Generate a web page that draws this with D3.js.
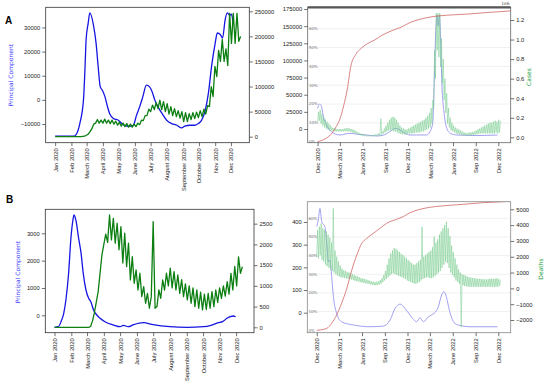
<!DOCTYPE html>
<html>
<head>
<meta charset="utf-8">
<title>Principal component vs cases / deaths</title>
<script src="https://d3js.org/d3.v7.min.js"></script>
<style>
  body { margin: 0; background: #fff; }
  svg { display: block; font-family: "DejaVu Sans", sans-serif; }
  .axis .domain { display: none; }
  .axis .tick text { font-size: 5.8px; fill: #222; }
  .axis .tick line { stroke: #333; stroke-width: 0.7; }
  .pct { font-size: 4px; fill: #777; }
</style>
</head>
<body>
<div id="chart"></div>
<script>
// ---------- data: panel A (cases) ----------
// principal component 2020 (left axis)
const pcCasesEarly = [
  ["2020-01-01",-15000],["2020-02-06",-15000],["2020-02-11",-14000],["2020-02-17",-9800],
  ["2020-02-24",0],["2020-02-27",13700],["2020-02-29",24900],["2020-03-04",31800],
  ["2020-03-07",36000],["2020-03-14",31000],["2020-03-19",23500],["2020-03-23",13700],
  ["2020-03-27",5400],["2020-03-31",4000],["2020-04-05",1250],["2020-04-09",-2200],
  ["2020-04-14",-5700],["2020-04-21",-7700],["2020-05-01",-8500],["2020-05-08",-10000],
  ["2020-05-15",-10800],["2020-05-22",-11000],["2020-05-29",-10500],["2020-06-04",-6400],
  ["2020-06-10",-2900],["2020-06-16",1250],["2020-06-23",6100],["2020-06-29",5400],
  ["2020-07-04",3300],["2020-07-09",-100],["2020-07-15",-2900],["2020-07-23",-5700],
  ["2020-08-01",-8500],["2020-08-10",-9800],["2020-08-20",-10500],["2020-08-29",-11600],
  ["2020-09-04",-10900],["2020-09-14",-10500],["2020-09-23",-10500],["2020-09-30",-9800],
  ["2020-10-06",-8500],["2020-10-13",-4300],["2020-10-19",2700],["2020-10-25",13700],
  ["2020-11-01",23500],["2020-11-05",27700],["2020-11-11",27000],["2020-11-15",25600],
  ["2020-11-20",33200],["2020-11-24",36000],["2020-11-29",35000],["2020-12-02",35500],
  ["2020-12-05",31800]
];
// daily cases 2020, one value at the start of each week and one mid-week (right axis)
const casesEarlyStart = "2020-01-01";
const casesEarlyWk = [0,0,0,0,0,0,0,0,1000,5000,16000,27000,27000,27000,27000,26000,25000,23000,
  21000,20000,19000,19000,20000,24000,32000,42000,50000,54000,56000,54000,50000,45000,42000,40000,
  37000,30000,30000,34000,36000,38000,40000,45000,60000,80000,120000,150000,150000,142000,186000,
  186000,190000];
const casesEarlyMid = [0,0,0,0,0,0,0,500,3000,10000,25000,34000,33000,35000,33000,33000,31000,29000,
  27000,26000,25000,25000,27000,33000,42000,55000,63000,68000,73000,70000,66000,60000,56000,52000,
  50000,48000,46000,48000,49000,52000,55000,62000,100000,140000,172000,194000,175000,246000,246000,
  246000,200000];

// principal component Dec 2020 - Dec 2022
const pcCasesLate = [
  ["2020-12-01",30000],["2020-12-03",32500],["2020-12-10",36500],["2020-12-17",32500],
  ["2020-12-23",20400],["2021-01-06",5800],["2021-01-26",-3900],["2021-03-01",-8750],
  ["2021-04-10",-6300],["2021-05-08",-7500],["2021-06-17",-8750],["2021-07-27",-10200],
  ["2021-08-23",-9000],["2021-09-19",-3900],["2021-10-10",1000],["2021-10-30",-1500],
  ["2021-11-19",-6300],["2021-12-09",-8750],["2022-01-05",-8750],["2022-02-14",-8750],
  ["2022-02-28",-3900],["2022-03-11",8300],["2022-03-17",66600],["2022-03-23",139600],
  ["2022-03-28",166000],["2022-04-02",150000],["2022-04-07",166000],["2022-04-12",129800],
  ["2022-04-17",66600],["2022-04-26",22900],["2022-05-07",1000],["2022-05-21",-6300],
  ["2022-06-17",-8750],["2022-09-05",-9500],["2022-11-28",-8750]
];
// cases (x1e6), week start / mid-week values
const casesLateStart = "2020-12-01";
const casesLateWk = [0.15,0.17,0.14,0.12,0.10, 0.09,0.08,0.07,0.07, 0.065,0.06,0.06,0.06,
  0.06,0.06,0.06,0.062,0.062, 0.06,0.058,0.05,0.045, 0.04,0.03,0.025,0.02,0.015,
  0.012,0.01,0.01,0.01,0.01, 0.012,0.015,0.015,0.02,0.02, 0.03,0.04,0.05,0.06,0.07,
  0.07,0.07,0.06,0.06,0.05, 0.04,0.035,0.03,0.03,0.03, 0.035,0.04,0.04,0.04,0.045,
  0.05,0.05,0.05,0.06,0.06, 0.07,0.08,0.09,0.10, 0.14,0.30,
  0.60,0.89,0.82,0.72,0.55,0.38,0.25,0.14, 0.10,0.07,0.06,0.05,0.04,0.035,0.03,0.025,0.02,0.02,
  0.02,0.02,0.02,0.02,0.025,0.03,0.03,0.035,0.04,0.04, 0.04,0.04,0.04,0.04,0.04,0.04,0.04,0.05,0.04,0.05];
const casesLateMid = [0.26,0.28,0.24,0.20,0.18, 0.16,0.14,0.12,0.10, 0.095,0.09,0.085,0.085,
  0.085,0.085,0.09,0.092,0.095, 0.09,0.085,0.08,0.07, 0.06,0.05,0.04,0.035,0.03,
  0.025,0.022,0.02,0.02,0.022, 0.025,0.03,0.035,0.04,0.19, 0.06,0.09,0.12,0.15,0.18,
  0.20,0.21,0.20,0.18,0.15, 0.12,0.10,0.09,0.08,0.08, 0.09,0.10,0.11,0.12,0.13,
  0.14,0.15,0.16,0.17,0.18, 0.20,0.22,0.25,0.30, 0.38,0.89,
  1.27,1.27,1.27,1.01,0.80,0.60,0.45,0.30, 0.20,0.15,0.12,0.10,0.09,0.08,0.07,0.06,0.05,0.045,
  0.045,0.05,0.05,0.055,0.06,0.07,0.08,0.09,0.10,0.11, 0.12,0.13,0.14,0.15,0.15,0.16,0.17,0.16,0.18,0.17];
// cumulative share of cases, %
const casesCumPct = [
  ["2020-12-01",0],["2020-12-31",1.5],["2021-01-25",4],["2021-02-14",8],["2021-03-01",12],
  ["2021-03-16",19],["2021-03-31",28],["2021-04-14",40],["2021-05-05",46.5],["2021-05-25",49.5],
  ["2021-06-19",52],["2021-07-19",54],["2021-08-18",56.5],["2021-09-27",59],["2021-11-06",61],
  ["2021-12-09",63.3],["2022-01-18",65],["2022-02-28",66.2],["2022-04-09",66.9],["2022-06-02",67.4],
  ["2022-08-09",67.9],["2022-10-15",68.6],["2023-01-20",69.5]
];

// ---------- data: panel B (deaths) ----------
const pcDeathsEarly = [
  ["2020-01-01",-440],["2020-01-08",-417],["2020-01-13",-234],["2020-01-18",73],["2020-01-22",560],
  ["2020-01-27",1537],["2020-01-31",2755],["2020-02-04",3487],["2020-02-06",3670],["2020-02-10",3425],
  ["2020-02-14",2876],["2020-02-19",2268],["2020-02-23",1537],["2020-02-28",926],["2020-03-04",622],
  ["2020-03-08",498],["2020-03-13",194],["2020-03-19",11],["2020-03-25",-110],["2020-04-03",-234],
  ["2020-04-19",-355],["2020-05-01",-417],["2020-05-07",-366],["2020-05-16",-417],["2020-05-26",-344],
  ["2020-06-13",-271],["2020-07-01",-344],["2020-08-01",-417],["2020-09-01",-440],["2020-10-02",-417],
  ["2020-10-17",-355],["2020-10-29",-271],["2020-11-06",-234],["2020-11-14",-110],["2020-11-20",-51],
  ["2020-11-26",-25],["2020-11-30",-51]
];
const deathsEarlyStart = "2020-01-01";
const deathsEarlyWk = [0,0,0,0,0,0,0,0,0,0,150,600,1300,2000,2050,2110,2030,1870,1550,1465,1143,
  1063,900,740,580,460,2550,500,700,900,1000,950,900,820,740,660,580,500,460,420,430,460,500,600,
  700,750,800,900,1000,1300];
const deathsEarlyMid = [0,0,0,0,0,0,0,0,0,20,350,860,1750,2250,2710,2630,2510,2430,2270,2030,1705,
  1384,1304,980,820,740,460,900,1143,1304,1425,1343,1263,1150,1050,1000,950,900,850,800,820,860,900,
  950,1000,1100,1300,1470,1700,1460];

const pcDeathsLate = [
  ["2020-12-01",380],["2020-12-07",409],["2020-12-14",460],["2020-12-21",401],["2021-01-03",379],
  ["2021-01-10",306],["2021-01-17",225],["2021-01-23",232],["2021-01-30",159],["2021-02-06",71],
  ["2021-02-19",-3],["2021-03-11",-40],["2021-04-27",-54],["2021-07-03",-62],["2021-08-26",-59],
  ["2021-09-22",-32],["2021-10-12",19],["2021-11-01",38],["2021-11-21",19],["2021-12-11",-10],
  ["2022-01-07",-40],["2022-01-20",-22],["2022-02-03",-40],["2022-02-23",-18],["2022-03-08",-10],
  ["2022-03-28",10],["2022-04-04",26],["2022-04-17",78],["2022-04-26",93],["2022-05-04",78],
  ["2022-05-20",4],["2022-06-09",-47],["2022-07-07",-58],["2022-08-09",-62],["2022-11-28",-62]
];
const deathsLateStart = "2020-12-01";
const deathsLateWk = [2000,1900,2100,1800,1700,1500,1400,1300,1200,1100,
  1000,900,800,750,700,680,650,620,600,580, 560,520,480,450,420,400,370,340,320,300,
  280,250,220,200,200,220,250,300,400,500, 600,700,800,900,950,900,850,800,750,700,
  650,600,500,450,400,350,300,300,350,400, 500,600,650,700,700,650,650,700,800,900,
  1000,1100,1300,1500,1700,1600,1300,1000,850,700, 500,400,300,-2430,200,150,120,100,100,100,
  100,100,100,100,100,100,100,100,100,100, 100,100,100,100,100,150];
const deathsLateMid = [3700,3900,4100,3800,3700,3600,3400,3200,2900,5060,
  2400,2000,1700,1450,1250,1150,1100,1050,1000,950, 900,850,800,750,700,650,620,600,560,520,
  480,450,420,400,420,450,520,650,850,1100, 1500,1900,2200,2400,2550,2500,2400,2300,2200,2100,
  2000,1900,1800,1700,1600,1500,1500,1600,1700,1800, 3900,2000,2100,2200,2300,2400,2600,3270,2900,3100,
  3400,3600,3800,4000,4220,3800,3300,2700,2300,1900, 1500,1200,1000,900,850,800,750,700,700,650,
  650,620,600,600,600,580,580,560,580,600, 620,600,620,640,600,550];
const deathsCumPct = [
  ["2020-12-01",0],["2021-01-10",1],["2021-01-30",3.8],["2021-02-19",8.2],["2021-03-11",14.5],
  ["2021-04-01",22.5],["2021-04-21",32.3],["2021-05-11",40.3],["2021-05-31",46.6],["2021-06-20",49.3],
  ["2021-07-17",52],["2021-08-12",54.6],["2021-09-08",57.3],["2021-10-19",59.5],["2021-11-14",60.9],
  ["2021-12-11",63],["2022-01-20",64.8],["2022-03-01",65.9],["2022-04-24",66.7],["2022-07-13",67.5],
  ["2022-10-02",68.4],["2022-12-21",68.9],["2023-01-20",69.1]
];

// ---------- ticks ----------
const ticks2020 = ["2020-01-01","2020-02-01","2020-03-01","2020-04-01","2020-05-01","2020-06-01",
  "2020-07-01","2020-08-01","2020-09-01","2020-10-01","2020-11-01","2020-12-01"];
const labels2020 = ["Jan 2020","Feb 2020","March 2020","April 2020","May 2020","June 2020",
  "July 2020","August 2020","September 2020","October 2020","Nov 2020","Dec 2020"];
const ticksLate = ["2020-12-01","2021-03-01","2021-06-01","2021-09-01","2021-12-01",
  "2022-03-01","2022-06-01","2022-09-01","2022-12-01"];
const labelsLate = ["Dec 2020","March 2021","June 2021","Sep 2021","Dec 2021",
  "March 2022","June 2022","Sep 2022","Dec 2022"];
const pctTicks = [0,10,20,30,40,50,60];

// ---------- drawing ----------
const parseDate = d3.timeParse("%Y-%m-%d");
const pairs = arr => arr.map(d => [parseDate(d[0]), d[1]]);
function weekly(start, wk, mid) {
  const t0 = parseDate(start), pts = [];
  wk.forEach((v, i) => {
    const d = d3.timeDay.offset(t0, 7 * i);
    pts.push([d, v]);
    pts.push([d3.timeHour.offset(d, 84), mid[i]]);
  });
  return pts;
}

const svg = d3.select("#chart").append("svg")
  .attr("width", 550).attr("height", 391);

const fmtInt = d3.format("d");

function panel(p) {
  const w = p.box[2] - p.box[0], h = p.box[3] - p.box[1];
  const g = svg.append("g").attr("transform", `translate(${p.box[0]},${p.box[1]})`);
  const x = d3.scaleTime().domain(p.xDom.map(parseDate)).range([0, w]);
  const yL = d3.scaleLinear().domain(p.yL).range([h, 0]);
  const yR = d3.scaleLinear().domain(p.yR).range([h, 0]);
  const yP = p.pct ? d3.scaleLinear().domain(p.pct).range([h, 0]) : null;

  g.append("clipPath").attr("id", "clip-" + p.id)
    .append("rect").attr("width", w).attr("height", h);

  if (yP) {
    g.selectAll(".grid").data(pctTicks.slice(1)).join("line")
      .attr("x1", 0).attr("x2", w)
      .attr("y1", d => yP(d)).attr("y2", d => yP(d))
      .attr("stroke", "#e6e6e6").attr("stroke-width", 0.6);
  }

  const plot = g.append("g").attr("clip-path", `url(#clip-${p.id})`);
  p.series.forEach(s => {
    const sy = s.axis === "L" ? yL : s.axis === "R" ? yR : yP;
    plot.append("path").datum(s.data)
      .attr("fill", "none")
      .attr("stroke", s.color)
      .attr("stroke-width", s.width)
      .attr("stroke-opacity", s.opacity || 1)
      .attr("stroke-linejoin", "round")
      .attr("d", d3.line().x(d => x(d[0])).y(d => sy(d[1])).curve(s.curve || d3.curveLinear));
  });

  if (yP) {
    g.selectAll(".pct").data(pctTicks).join("text")
      .attr("class", "pct")
      .attr("x", 1.2).attr("y", d => yP(d)).attr("dy", "0.35em")
      .text(d => d + "%");
  }

  g.append("rect").attr("width", w).attr("height", h)
    .attr("fill", "none").attr("stroke", p.frame).attr("stroke-width", 0.8);
  if (p.topBar) {
    g.append("line").attr("x1", 0).attr("x2", w).attr("y1", 0).attr("y2", 0)
      .attr("stroke", "#555").attr("stroke-width", 2.2);
  }

  const gx = g.append("g").attr("class", "axis").attr("transform", `translate(0,${h})`)
    .call(d3.axisBottom(x).tickValues(p.xTicks.map(parseDate))
      .tickFormat((d, i) => p.xLabels[i]).tickSize(3.5));
  gx.selectAll("text")
    .attr("transform", "rotate(-90)")
    .attr("text-anchor", "end")
    .attr("x", -5.5).attr("y", 0).attr("dy", "0.35em");

  g.append("g").attr("class", "axis")
    .call(d3.axisLeft(yL).tickValues(p.yLTicks).tickFormat(p.yLFmt).tickSize(3.5).tickPadding(2));
  g.append("g").attr("class", "axis").attr("transform", `translate(${w},0)`)
    .call(d3.axisRight(yR).tickValues(p.yRTicks).tickFormat(p.yRFmt).tickSize(3.5).tickPadding(2));

  if (p.offsetText) {
    g.append("text").attr("x", w - 1).attr("y", -2).attr("text-anchor", "end")
      .attr("font-size", 4.5).attr("fill", "#555").text(p.offsetText);
  }
}

const BLUE = "#1616e2", GREEN = "#0c7f12";
const LBLUE = "#a0a0f2", LGREEN = "#74cc8c", RED = "#d26464";

// A left
panel({
  id: "al", box: [45.7, 7.3, 249.3, 142.7], frame: "#333",
  xDom: ["2019-12-14", "2021-01-05"], xTicks: ticks2020, xLabels: labels2020,
  yL: [-17720, 38340], yLTicks: [-10000, 0, 10000, 20000, 30000], yLFmt: fmtInt,
  yR: [-11960, 257970], yRTicks: [0, 50000, 100000, 150000, 200000, 250000], yRFmt: fmtInt,
  series: [
    { data: pairs(pcCasesEarly), axis: "L", color: BLUE, width: 1.3, curve: d3.curveMonotoneX },
    { data: weekly(casesEarlyStart, casesEarlyWk, casesEarlyMid), axis: "R", color: GREEN, width: 1.3 }
  ]
});

// A right
panel({
  id: "ar", box: [307.7, 7.3, 510.7, 142.7], frame: "#666", topBar: true, offsetText: "1e6",
  xDom: ["2020-10-22", "2023-01-20"], xTicks: ticksLate, xLabels: labelsLate,
  yL: [-19980, 177480], yLTicks: d3.range(0, 175001, 25000), yLFmt: fmtInt,
  yR: [-0.055, 1.33], yRTicks: [0, 0.2, 0.4, 0.6, 0.8, 1.0, 1.2], yRFmt: d3.format(".1f"),
  pct: [-0.53, 71.4],
  series: [
    { data: pairs(pcCasesLate), axis: "L", color: LBLUE, width: 1, curve: d3.curveMonotoneX },
    { data: weekly(casesLateStart, casesLateWk, casesLateMid), axis: "R", color: LGREEN, width: 0.7, opacity: 0.75 },
    { data: pairs(casesCumPct), axis: "P", color: RED, width: 0.8, curve: d3.curveMonotoneX }
  ]
});

// B left
panel({
  id: "bl", box: [45.3, 209.3, 254, 332.7], frame: "#333",
  xDom: ["2019-12-15", "2021-01-03"], xTicks: ticks2020, xLabels: labels2020,
  yL: [-636, 3878], yLTicks: [0, 1000, 2000, 3000], yLFmt: fmtInt,
  yR: [-130, 2847], yRTicks: [0, 500, 1000, 1500, 2000, 2500], yRFmt: fmtInt,
  series: [
    { data: pairs(pcDeathsEarly), axis: "L", color: BLUE, width: 1.3, curve: d3.curveMonotoneX },
    { data: weekly(deathsEarlyStart, deathsEarlyWk, deathsEarlyMid), axis: "R", color: GREEN, width: 1.3 }
  ]
});

// B right
panel({
  id: "br", box: [307.3, 201.7, 510.7, 332.7], frame: "#888",
  xDom: ["2020-10-24", "2023-01-20"], xTicks: ticksLate, xLabels: labelsLate,
  yL: [-88.2, 489.5], yLTicks: [0, 100, 200, 300, 400], yLFmt: fmtInt,
  yR: [-2803, 5481], yRTicks: d3.range(-2000, 5001, 1000), yRFmt: fmtInt,
  pct: [-1.29, 68.9],
  series: [
    { data: pairs(pcDeathsLate), axis: "L", color: LBLUE, width: 1, curve: d3.curveMonotoneX },
    { data: weekly(deathsLateStart, deathsLateWk, deathsLateMid), axis: "R", color: LGREEN, width: 0.7, opacity: 0.75 },
    { data: pairs(deathsCumPct), axis: "P", color: RED, width: 0.8, curve: d3.curveMonotoneX }
  ]
});

// axis titles and panel letters
const vText = (x, y, txt, color) => svg.append("text")
  .attr("transform", `translate(${x},${y}) rotate(-90)`)
  .attr("text-anchor", "middle").attr("dy", "0.35em")
  .attr("font-size", 6).attr("fill", color).text(txt);
vText(10.8, 75, "Principal Component", "#3a3aff");
vText(17.5, 272, "Principal Component", "#3a3aff");
vText(529.3, 77, "Cases", "#22a03c");
vText(540.7, 269, "Deaths", "#22a03c");

svg.append("text").attr("x", 5).attr("y", 24)
  .attr("font-family", "Liberation Sans, Arial, sans-serif")
  .attr("font-weight", "bold").attr("font-size", 10).text("A");
svg.append("text").attr("x", 6).attr("y", 202.5)
  .attr("font-family", "Liberation Sans, Arial, sans-serif")
  .attr("font-weight", "bold").attr("font-size", 10).text("B");
</script>
</body>
</html>
